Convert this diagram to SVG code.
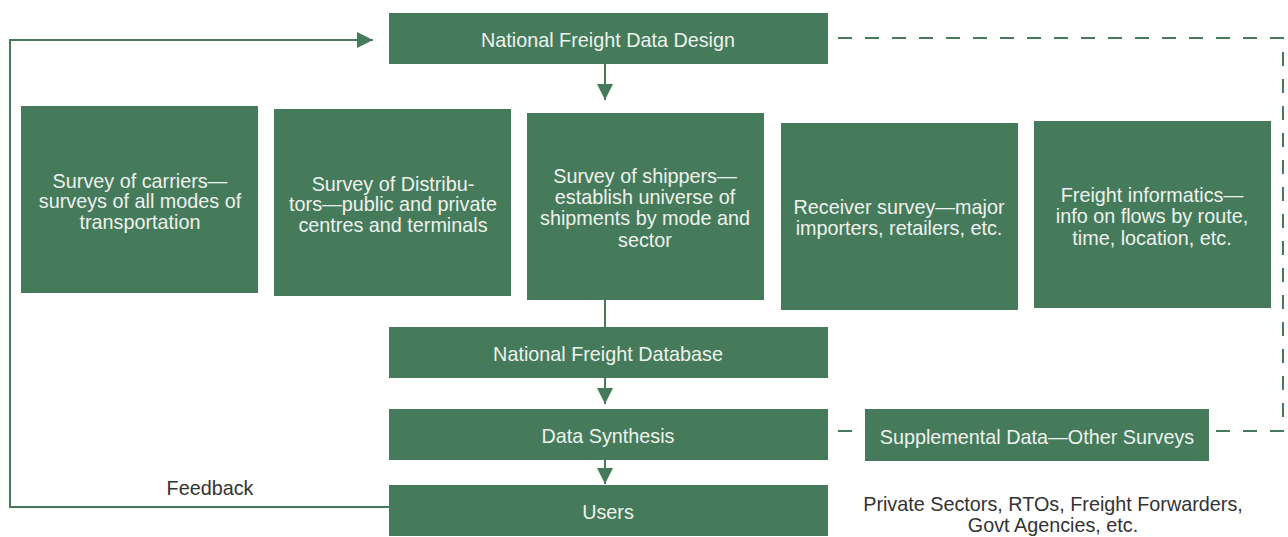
<svg xmlns="http://www.w3.org/2000/svg" width="1288" height="537" viewBox="0 0 1288 537">
<style>
.box{fill:#457b5a}
.t{font-family:"Liberation Sans",Arial,sans-serif;font-size:19.8px;fill:#eef2ee;text-anchor:middle}
.k{font-family:"Liberation Sans",Arial,sans-serif;font-size:19.8px;fill:#333;text-anchor:middle}
.ln{stroke:#457b5a;stroke-width:2;fill:none}
.dash{stroke:#457b5a;stroke-width:2;fill:none;stroke-dasharray:14 13}
</style>
<defs>
<marker id="ah" viewBox="0 0 10 10" refX="10" refY="5" markerWidth="16" markerHeight="16" markerUnits="userSpaceOnUse" orient="auto">
<path d="M0,0 L10,5 L0,10 Z" fill="#457b5a"/>
</marker>
</defs>
<g id="connectors">
<path class="dash" d="M838,38 H1283 V431 H830"/>
<path class="ln" d="M389,507 H10 V40 H373" marker-end="url(#ah)"/>
<path class="ln" d="M605,64 V100" marker-end="url(#ah)"/>
<path class="ln" d="M605,300 V327"/>
<path class="ln" d="M605,378 V404" marker-end="url(#ah)"/>
<path class="ln" d="M605,460 V484" marker-end="url(#ah)"/>
</g>
<g id="design"><rect class="box" x="389" y="13" width="439" height="51"/><text class="t" x="608" y="47">National Freight Data Design</text></g>
<g id="carriers"><rect class="box" x="21" y="106" width="237" height="187"/>
<text class="t" x="140" y="188">Survey of carriers—</text><text class="t" x="140" y="208">surveys of all modes of</text><text class="t" x="140" y="229">transportation</text></g>
<g id="distributors"><rect class="box" x="274" y="109" width="237" height="187"/>
<text class="t" x="393" y="191">Survey of Distribu-</text><text class="t" x="393" y="211">tors—public and private</text><text class="t" x="393" y="232">centres and terminals</text></g>
<g id="shippers"><rect class="box" x="527" y="113" width="237" height="187"/>
<text class="t" x="645" y="183">Survey of shippers—</text><text class="t" x="645" y="204">establish universe of</text><text class="t" x="645" y="225">shipments by mode and</text><text class="t" x="645" y="247">sector</text></g>
<g id="receiver"><rect class="box" x="781" y="123" width="237" height="187"/>
<text class="t" x="899" y="214">Receiver survey—major</text><text class="t" x="899" y="235">importers, retailers, etc.</text></g>
<g id="informatics"><rect class="box" x="1034" y="121" width="237" height="187"/>
<text class="t" x="1152" y="202">Freight informatics—</text><text class="t" x="1152" y="223">info on flows by route,</text><text class="t" x="1152" y="245">time, location, etc.</text></g>
<g id="database"><rect class="box" x="389" y="327" width="439" height="51"/><text class="t" x="608" y="361">National Freight Database</text></g>
<g id="synthesis"><rect class="box" x="389" y="409" width="439" height="51"/><text class="t" x="608" y="443">Data Synthesis</text></g>
<g id="supplemental"><rect class="box" x="865" y="409" width="344" height="52"/><text class="t" x="1037" y="444">Supplemental Data—Other Surveys</text></g>
<g id="users"><rect class="box" x="389" y="485" width="439" height="51"/><text class="t" x="608" y="519">Users</text></g>
<g id="labels">
<text class="k" x="210" y="495">Feedback</text>
<text class="k" x="1053" y="511">Private Sectors, RTOs, Freight Forwarders,</text>
<text class="k" x="1053" y="532">Govt  Agencies, etc.</text>
</g>
</svg>
